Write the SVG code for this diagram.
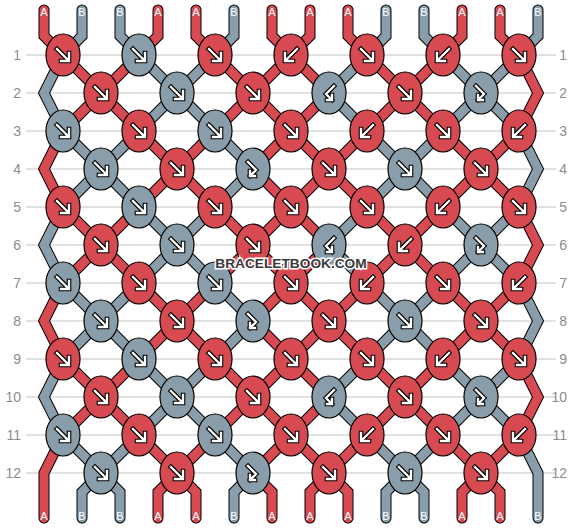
<svg xmlns="http://www.w3.org/2000/svg" width="582" height="528" viewBox="0 0 582 528">
<style>
.grid line{stroke:#c4c4c4;stroke-width:1}
.num{font-family:"Liberation Sans",Arial,sans-serif;font-size:14px;fill:#8c8c8c;text-anchor:end}
.so use{fill:none;stroke:#000;stroke-width:11;stroke-linecap:round;stroke-linejoin:miter}
.sc use{fill:none;stroke-width:9;stroke-linecap:round;stroke-linejoin:miter}
.sc .A{stroke:#d84a52}
.sc .B{stroke:#8a9daa}
.knot ellipse{stroke:#000;stroke-width:1.2}
.R ellipse{fill:#d84a52}
.G ellipse{fill:#8a9daa}
.ao{fill:none;stroke:#000;stroke-width:4.6;stroke-linecap:square;stroke-linejoin:miter}
.ai{fill:none;stroke:#fff;stroke-width:2.4;stroke-linecap:square;stroke-linejoin:miter}
.lbl{font-family:"Liberation Sans",Arial,sans-serif;font-size:11px;fill:#fff;text-anchor:middle}
.wm{font-family:"Liberation Sans",Arial,sans-serif;font-weight:bold;font-size:13.7px;fill:#3a3a3a;stroke:#fff;stroke-width:3;paint-order:stroke;text-anchor:middle}
</style>
<defs>
<g id="aF"><path class="ao" d="M-6,-6L5,5M6,-2V6H-2"/><path class="ai" d="M-6,-6L5,5M6,-2V6H-2"/></g>
<g id="aB"><use href="#aF" transform="scale(-1,1)"/></g>
<g id="aFB"><path class="ao" d="M-5,-7L3,1L-3,7M-3,2V7H2"/><path class="ai" d="M-5,-7L3,1L-3,7M-3,2V7H2"/></g>
<g id="aBF"><use href="#aFB" transform="scale(-1,1)"/></g>
<path id="s0" d="M44,10V36L63,55L101,93L139,131L177,169L215,207L253,245L291,283L329,321L367,359L405,397L443,435L481,473L500,492V518"/>
<path id="s1" d="M82,10V36L63,55L44,93L63,131L101,169L139,207L177,245L215,283L253,321L215,359L177,397L139,435L101,473L82,492V518"/>
<path id="s2" d="M120,10V36L139,55L177,93L215,131L253,169L215,207L177,245L139,283L101,321L63,359L44,397L63,435L101,473L120,492V518"/>
<path id="s3" d="M158,10V36L139,55L101,93L63,131L44,169L63,207L101,245L139,283L177,321L215,359L253,397L291,435L329,473L348,492V518"/>
<path id="s4" d="M196,10V36L215,55L253,93L291,131L329,169L367,207L405,245L443,283L481,321L519,359L538,397L519,435L481,473L462,492V518"/>
<path id="s5" d="M234,10V36L215,55L177,93L139,131L101,169L63,207L44,245L63,283L101,321L139,359L177,397L215,435L253,473L234,492V518"/>
<path id="s6" d="M272,10V36L291,55L329,93L291,131L253,169L291,207L329,245L291,283L253,321L291,359L329,397L291,435L253,473L272,492V518"/>
<path id="s7" d="M310,10V36L291,55L253,93L215,131L177,169L139,207L101,245L63,283L44,321L63,359L101,397L139,435L177,473L196,492V518"/>
<path id="s8" d="M348,10V36L367,55L405,93L443,131L481,169L519,207L538,245L519,283L481,321L443,359L405,397L367,435L329,473L310,492V518"/>
<path id="s9" d="M386,10V36L367,55L329,93L367,131L405,169L443,207L481,245L443,283L405,321L367,359L329,397L367,435L405,473L424,492V518"/>
<path id="s10" d="M424,10V36L443,55L481,93L443,131L405,169L367,207L329,245L367,283L405,321L443,359L481,397L443,435L405,473L386,492V518"/>
<path id="s11" d="M462,10V36L443,55L405,93L367,131L329,169L291,207L253,245L215,283L177,321L139,359L101,397L63,435L44,473V518"/>
<path id="s12" d="M500,10V36L519,55L538,93L519,131L481,169L443,207L405,245L367,283L329,321L291,359L253,397L215,435L177,473L158,492V518"/>
<path id="s13" d="M538,10V36L519,55L481,93L519,131L538,169L519,207L481,245L519,283L538,321L519,359L481,397L519,435L538,473V518"/>
</defs>
<rect width="582" height="528" fill="#fff"/>
<g id="grid" class="grid">
<line x1="26" y1="55" x2="556" y2="55"/><line x1="26" y1="93" x2="556" y2="93"/><line x1="26" y1="131" x2="556" y2="131"/><line x1="26" y1="169" x2="556" y2="169"/><line x1="26" y1="207" x2="556" y2="207"/><line x1="26" y1="245" x2="556" y2="245"/><line x1="26" y1="283" x2="556" y2="283"/><line x1="26" y1="321" x2="556" y2="321"/><line x1="26" y1="359" x2="556" y2="359"/><line x1="26" y1="397" x2="556" y2="397"/><line x1="26" y1="435" x2="556" y2="435"/><line x1="26" y1="473" x2="556" y2="473"/>
</g>
<g id="row-numbers" class="num">
<text x="21" y="60">1</text><text x="21" y="98">2</text><text x="21" y="136">3</text><text x="21" y="174">4</text><text x="21" y="212">5</text><text x="21" y="250">6</text><text x="21" y="288">7</text><text x="21" y="326">8</text><text x="21" y="364">9</text><text x="21" y="402">10</text><text x="21" y="440">11</text><text x="21" y="478">12</text>
<text x="567" y="60">1</text><text x="567" y="98">2</text><text x="567" y="136">3</text><text x="567" y="174">4</text><text x="567" y="212">5</text><text x="567" y="250">6</text><text x="567" y="288">7</text><text x="567" y="326">8</text><text x="567" y="364">9</text><text x="567" y="402">10</text><text x="567" y="440">11</text><text x="567" y="478">12</text>
</g>
<g id="connectors">
<g class="so"><use href="#s0"/><use href="#s1"/><use href="#s2"/><use href="#s3"/><use href="#s4"/><use href="#s5"/><use href="#s6"/><use href="#s7"/><use href="#s8"/><use href="#s9"/><use href="#s10"/><use href="#s11"/><use href="#s12"/><use href="#s13"/></g>
<g class="sc"><use href="#s0" class="A"/><use href="#s1" class="B"/><use href="#s2" class="B"/><use href="#s3" class="A"/><use href="#s4" class="A"/><use href="#s5" class="B"/><use href="#s6" class="A"/><use href="#s7" class="A"/><use href="#s8" class="A"/><use href="#s9" class="B"/><use href="#s10" class="B"/><use href="#s11" class="A"/><use href="#s12" class="A"/><use href="#s13" class="B"/></g>
</g>
<g id="string-labels" class="lbl">
<text x="44" y="16">A</text><text x="82" y="16">B</text><text x="120" y="16">B</text><text x="158" y="16">A</text><text x="196" y="16">A</text><text x="234" y="16">B</text><text x="272" y="16">A</text><text x="310" y="16">A</text><text x="348" y="16">A</text><text x="386" y="16">B</text><text x="424" y="16">B</text><text x="462" y="16">A</text><text x="500" y="16">A</text><text x="538" y="16">B</text>
<text x="44" y="520">A</text><text x="82" y="520">B</text><text x="120" y="520">B</text><text x="158" y="520">A</text><text x="196" y="520">A</text><text x="234" y="520">B</text><text x="272" y="520">A</text><text x="310" y="520">A</text><text x="348" y="520">A</text><text x="386" y="520">B</text><text x="424" y="520">B</text><text x="462" y="520">A</text><text x="500" y="520">A</text><text x="538" y="520">B</text>
</g>
<g id="knots">
<g id="k1-1" class="knot R" transform="translate(63,55)"><ellipse rx="17" ry="21"/><use href="#aF"/></g>
<g id="k1-2" class="knot G" transform="translate(139,55)"><ellipse rx="17" ry="21"/><use href="#aF"/></g>
<g id="k1-3" class="knot R" transform="translate(215,55)"><ellipse rx="17" ry="21"/><use href="#aF"/></g>
<g id="k1-4" class="knot R" transform="translate(291,55)"><ellipse rx="17" ry="21"/><use href="#aB"/></g>
<g id="k1-5" class="knot R" transform="translate(367,55)"><ellipse rx="17" ry="21"/><use href="#aF"/></g>
<g id="k1-6" class="knot R" transform="translate(443,55)"><ellipse rx="17" ry="21"/><use href="#aB"/></g>
<g id="k1-7" class="knot R" transform="translate(519,55)"><ellipse rx="17" ry="21"/><use href="#aF"/></g>
<g id="k2-1" class="knot R" transform="translate(101,93)"><ellipse rx="17" ry="21"/><use href="#aF"/></g>
<g id="k2-2" class="knot G" transform="translate(177,93)"><ellipse rx="17" ry="21"/><use href="#aF"/></g>
<g id="k2-3" class="knot R" transform="translate(253,93)"><ellipse rx="17" ry="21"/><use href="#aF"/></g>
<g id="k2-4" class="knot G" transform="translate(329,93)"><ellipse rx="17" ry="21"/><use href="#aBF"/></g>
<g id="k2-5" class="knot R" transform="translate(405,93)"><ellipse rx="17" ry="21"/><use href="#aF"/></g>
<g id="k2-6" class="knot G" transform="translate(481,93)"><ellipse rx="17" ry="21"/><use href="#aFB"/></g>
<g id="k3-1" class="knot G" transform="translate(63,131)"><ellipse rx="17" ry="21"/><use href="#aF"/></g>
<g id="k3-2" class="knot R" transform="translate(139,131)"><ellipse rx="17" ry="21"/><use href="#aF"/></g>
<g id="k3-3" class="knot G" transform="translate(215,131)"><ellipse rx="17" ry="21"/><use href="#aF"/></g>
<g id="k3-4" class="knot R" transform="translate(291,131)"><ellipse rx="17" ry="21"/><use href="#aF"/></g>
<g id="k3-5" class="knot R" transform="translate(367,131)"><ellipse rx="17" ry="21"/><use href="#aB"/></g>
<g id="k3-6" class="knot R" transform="translate(443,131)"><ellipse rx="17" ry="21"/><use href="#aF"/></g>
<g id="k3-7" class="knot R" transform="translate(519,131)"><ellipse rx="17" ry="21"/><use href="#aB"/></g>
<g id="k4-1" class="knot G" transform="translate(101,169)"><ellipse rx="17" ry="21"/><use href="#aF"/></g>
<g id="k4-2" class="knot R" transform="translate(177,169)"><ellipse rx="17" ry="21"/><use href="#aF"/></g>
<g id="k4-3" class="knot G" transform="translate(253,169)"><ellipse rx="17" ry="21"/><use href="#aFB"/></g>
<g id="k4-4" class="knot R" transform="translate(329,169)"><ellipse rx="17" ry="21"/><use href="#aF"/></g>
<g id="k4-5" class="knot G" transform="translate(405,169)"><ellipse rx="17" ry="21"/><use href="#aF"/></g>
<g id="k4-6" class="knot R" transform="translate(481,169)"><ellipse rx="17" ry="21"/><use href="#aF"/></g>
<g id="k5-1" class="knot R" transform="translate(63,207)"><ellipse rx="17" ry="21"/><use href="#aF"/></g>
<g id="k5-2" class="knot G" transform="translate(139,207)"><ellipse rx="17" ry="21"/><use href="#aF"/></g>
<g id="k5-3" class="knot R" transform="translate(215,207)"><ellipse rx="17" ry="21"/><use href="#aF"/></g>
<g id="k5-4" class="knot R" transform="translate(291,207)"><ellipse rx="17" ry="21"/><use href="#aF"/></g>
<g id="k5-5" class="knot R" transform="translate(367,207)"><ellipse rx="17" ry="21"/><use href="#aF"/></g>
<g id="k5-6" class="knot R" transform="translate(443,207)"><ellipse rx="17" ry="21"/><use href="#aB"/></g>
<g id="k5-7" class="knot R" transform="translate(519,207)"><ellipse rx="17" ry="21"/><use href="#aF"/></g>
<g id="k6-1" class="knot R" transform="translate(101,245)"><ellipse rx="17" ry="21"/><use href="#aF"/></g>
<g id="k6-2" class="knot G" transform="translate(177,245)"><ellipse rx="17" ry="21"/><use href="#aF"/></g>
<g id="k6-3" class="knot R" transform="translate(253,245)"><ellipse rx="17" ry="21"/><use href="#aF"/></g>
<g id="k6-4" class="knot G" transform="translate(329,245)"><ellipse rx="17" ry="21"/><use href="#aBF"/></g>
<g id="k6-5" class="knot R" transform="translate(405,245)"><ellipse rx="17" ry="21"/><use href="#aB"/></g>
<g id="k6-6" class="knot G" transform="translate(481,245)"><ellipse rx="17" ry="21"/><use href="#aFB"/></g>
<g id="k7-1" class="knot G" transform="translate(63,283)"><ellipse rx="17" ry="21"/><use href="#aF"/></g>
<g id="k7-2" class="knot R" transform="translate(139,283)"><ellipse rx="17" ry="21"/><use href="#aF"/></g>
<g id="k7-3" class="knot G" transform="translate(215,283)"><ellipse rx="17" ry="21"/><use href="#aF"/></g>
<g id="k7-4" class="knot R" transform="translate(291,283)"><ellipse rx="17" ry="21"/><use href="#aF"/></g>
<g id="k7-5" class="knot R" transform="translate(367,283)"><ellipse rx="17" ry="21"/><use href="#aB"/></g>
<g id="k7-6" class="knot R" transform="translate(443,283)"><ellipse rx="17" ry="21"/><use href="#aF"/></g>
<g id="k7-7" class="knot R" transform="translate(519,283)"><ellipse rx="17" ry="21"/><use href="#aB"/></g>
<g id="k8-1" class="knot G" transform="translate(101,321)"><ellipse rx="17" ry="21"/><use href="#aF"/></g>
<g id="k8-2" class="knot R" transform="translate(177,321)"><ellipse rx="17" ry="21"/><use href="#aF"/></g>
<g id="k8-3" class="knot G" transform="translate(253,321)"><ellipse rx="17" ry="21"/><use href="#aFB"/></g>
<g id="k8-4" class="knot R" transform="translate(329,321)"><ellipse rx="17" ry="21"/><use href="#aF"/></g>
<g id="k8-5" class="knot G" transform="translate(405,321)"><ellipse rx="17" ry="21"/><use href="#aF"/></g>
<g id="k8-6" class="knot R" transform="translate(481,321)"><ellipse rx="17" ry="21"/><use href="#aF"/></g>
<g id="k9-1" class="knot R" transform="translate(63,359)"><ellipse rx="17" ry="21"/><use href="#aF"/></g>
<g id="k9-2" class="knot G" transform="translate(139,359)"><ellipse rx="17" ry="21"/><use href="#aF"/></g>
<g id="k9-3" class="knot R" transform="translate(215,359)"><ellipse rx="17" ry="21"/><use href="#aF"/></g>
<g id="k9-4" class="knot R" transform="translate(291,359)"><ellipse rx="17" ry="21"/><use href="#aF"/></g>
<g id="k9-5" class="knot R" transform="translate(367,359)"><ellipse rx="17" ry="21"/><use href="#aF"/></g>
<g id="k9-6" class="knot R" transform="translate(443,359)"><ellipse rx="17" ry="21"/><use href="#aB"/></g>
<g id="k9-7" class="knot R" transform="translate(519,359)"><ellipse rx="17" ry="21"/><use href="#aF"/></g>
<g id="k10-1" class="knot R" transform="translate(101,397)"><ellipse rx="17" ry="21"/><use href="#aF"/></g>
<g id="k10-2" class="knot G" transform="translate(177,397)"><ellipse rx="17" ry="21"/><use href="#aF"/></g>
<g id="k10-3" class="knot R" transform="translate(253,397)"><ellipse rx="17" ry="21"/><use href="#aF"/></g>
<g id="k10-4" class="knot G" transform="translate(329,397)"><ellipse rx="17" ry="21"/><use href="#aBF"/></g>
<g id="k10-5" class="knot R" transform="translate(405,397)"><ellipse rx="17" ry="21"/><use href="#aF"/></g>
<g id="k10-6" class="knot G" transform="translate(481,397)"><ellipse rx="17" ry="21"/><use href="#aFB"/></g>
<g id="k11-1" class="knot G" transform="translate(63,435)"><ellipse rx="17" ry="21"/><use href="#aF"/></g>
<g id="k11-2" class="knot R" transform="translate(139,435)"><ellipse rx="17" ry="21"/><use href="#aF"/></g>
<g id="k11-3" class="knot G" transform="translate(215,435)"><ellipse rx="17" ry="21"/><use href="#aF"/></g>
<g id="k11-4" class="knot R" transform="translate(291,435)"><ellipse rx="17" ry="21"/><use href="#aF"/></g>
<g id="k11-5" class="knot R" transform="translate(367,435)"><ellipse rx="17" ry="21"/><use href="#aB"/></g>
<g id="k11-6" class="knot R" transform="translate(443,435)"><ellipse rx="17" ry="21"/><use href="#aF"/></g>
<g id="k11-7" class="knot R" transform="translate(519,435)"><ellipse rx="17" ry="21"/><use href="#aB"/></g>
<g id="k12-1" class="knot G" transform="translate(101,473)"><ellipse rx="17" ry="21"/><use href="#aF"/></g>
<g id="k12-2" class="knot R" transform="translate(177,473)"><ellipse rx="17" ry="21"/><use href="#aF"/></g>
<g id="k12-3" class="knot G" transform="translate(253,473)"><ellipse rx="17" ry="21"/><use href="#aFB"/></g>
<g id="k12-4" class="knot R" transform="translate(329,473)"><ellipse rx="17" ry="21"/><use href="#aF"/></g>
<g id="k12-5" class="knot G" transform="translate(405,473)"><ellipse rx="17" ry="21"/><use href="#aF"/></g>
<g id="k12-6" class="knot R" transform="translate(481,473)"><ellipse rx="17" ry="21"/><use href="#aF"/></g>
</g>
<text id="watermark" class="wm" x="291" y="268">BRACELETBOOK.COM</text>
</svg>
